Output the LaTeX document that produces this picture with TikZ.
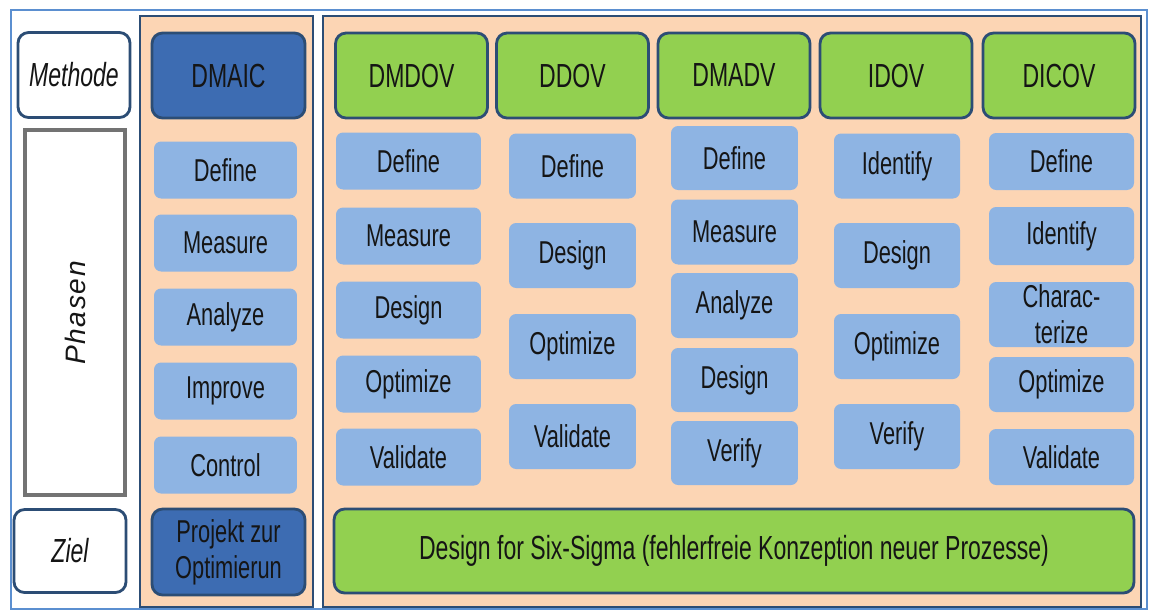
\documentclass[tikz,border=0pt]{standalone}
\usepackage{fontspec}
\setmainfont{Liberation Sans}[FakeStretch=0.69]
\newfontfamily\phasenfont{Liberation Sans}[LetterSpace=6]
\usepackage{tikz}
\usetikzlibrary{positioning}

\definecolor{peach}{HTML}{FCD5B4}
\definecolor{borderblue}{HTML}{2C4D75}
\definecolor{darkblue}{HTML}{3D6CB2}
\definecolor{lightblue}{HTML}{8EB4E3}
\definecolor{dfssgreen}{HTML}{92D050}
\definecolor{framecol}{HTML}{5B8FD0}
\definecolor{textcol}{HTML}{151515}

\newcommand{\phasefont}{\fontsize{18}{20.5}\selectfont}
\newcommand{\headfont}{\fontsize{19}{21}\selectfont}

\tikzset{
    sidelabel/.style={draw=borderblue,line width=1.6pt,fill=white,rounded corners=6pt,
        minimum width=2.24cm,minimum height=1.7cm,font=\headfont\itshape,text=textcol},
    head/.style={draw=borderblue,line width=1.6pt,rounded corners=6pt,
        minimum width=3.04cm,minimum height=1.7cm,font=\headfont,text=textcol,align=center},
    greenhead/.style={head,fill=dfssgreen},
    bluehead/.style={head,fill=darkblue},
    phasebox/.style={fill=lightblue,rounded corners=4pt,font=\phasefont,text=textcol,
        align=center,inner sep=1pt},
    panel/.style={draw=borderblue,line width=1.5pt,fill=peach}
}

\begin{document}
\begin{tikzpicture}[x=0.02cm,y=-0.02cm]
    \useasboundingbox (0,0) rectangle (1152,610);

    % Outer frame
    \draw[framecol,line width=0.8pt] (11,10) rectangle (1147,609);

    % Left labels
    \node[sidelabel] (methode) at (74,75) {Methode};
    \draw[gray!90!black,line width=2pt] (25,130) rectangle (125,495);
    \node[rotate=90,font=\phasenfont\fontsize{16}{18}\selectfont\itshape,text=textcol] (phasen) at (75,313) {Phasen};
    \node[sidelabel,minimum height=1.66cm] (ziel) at (70,551) {Ziel};

    % DMAIC panel
    \draw[panel] (140,16) rectangle (313,607);
    \node[bluehead,minimum width=3.06cm] (dmaic) at (228.5,75.5) {DMAIC};
    \node[phasebox,minimum width=2.86cm,minimum height=1.14cm] (dmaic-d) at (225.5,170) {Define};
    \node[phasebox,minimum width=2.86cm,minimum height=1.14cm] (dmaic-m) at (225.5,243) {Measure};
    \node[phasebox,minimum width=2.86cm,minimum height=1.14cm] (dmaic-a) at (225.5,317) {Analyze};
    \node[phasebox,minimum width=2.86cm,minimum height=1.14cm] (dmaic-i) at (225.5,391) {Improve};
    \node[phasebox,minimum width=2.86cm,minimum height=1.14cm] (dmaic-c) at (225.5,465) {Control};
    \node[bluehead,minimum width=3.06cm,font=\phasefont,minimum height=1.72cm] (projekt) at (228.5,552)
        {Projekt zur\\Optimierun};

    % DFSS panel
    \draw[panel] (323,16) rectangle (1141,607);
    \node[greenhead] (dmdov) at (411.5,75.5) {DMDOV};
    \node[greenhead] (ddov) at (572.5,75.5) {DDOV};
    \node[greenhead] (dmadv) at (734,75.5) {DMADV};
    \node[greenhead] (idov) at (896,75.5) {IDOV};
    \node[greenhead] (dicov) at (1059,75.5) {DICOV};

    % DMDOV phases
    \node[phasebox,minimum width=2.9cm,minimum height=1.14cm] (dmdov-1) at (408.5,161) {Define};
    \node[phasebox,minimum width=2.9cm,minimum height=1.14cm] (dmdov-2) at (408.5,236) {Measure};
    \node[phasebox,minimum width=2.9cm,minimum height=1.14cm] (dmdov-3) at (408.5,310) {Design};
    \node[phasebox,minimum width=2.9cm,minimum height=1.14cm] (dmdov-4) at (408.5,384) {Optimize};
    \node[phasebox,minimum width=2.9cm,minimum height=1.14cm] (dmdov-5) at (408.5,457) {Validate};

    % DDOV phases
    \node[phasebox,minimum width=2.54cm,minimum height=1.3cm] (ddov-1) at (572.5,166) {Define};
    \node[phasebox,minimum width=2.54cm,minimum height=1.3cm] (ddov-2) at (572.5,255.5) {Design};
    \node[phasebox,minimum width=2.54cm,minimum height=1.3cm] (ddov-3) at (572.5,346.5) {Optimize};
    \node[phasebox,minimum width=2.54cm,minimum height=1.3cm] (ddov-4) at (572.5,436.5) {Validate};

    % DMADV phases
    \node[phasebox,minimum width=2.54cm,minimum height=1.28cm] (dmadv-1) at (734.5,158) {Define};
    \node[phasebox,minimum width=2.54cm,minimum height=1.3cm] (dmadv-2) at (734.5,232) {Measure};
    \node[phasebox,minimum width=2.54cm,minimum height=1.3cm] (dmadv-3) at (734.5,305.5) {Analyze};
    \node[phasebox,minimum width=2.54cm,minimum height=1.28cm] (dmadv-4) at (734.5,380) {Design};
    \node[phasebox,minimum width=2.54cm,minimum height=1.28cm] (dmadv-5) at (734.5,453) {Verify};

    % IDOV phases
    \node[phasebox,minimum width=2.52cm,minimum height=1.3cm] (idov-1) at (897,166) {Identify};
    \node[phasebox,minimum width=2.52cm,minimum height=1.3cm] (idov-2) at (897,255.5) {Design};
    \node[phasebox,minimum width=2.52cm,minimum height=1.3cm] (idov-3) at (897,346.5) {Optimize};
    \node[phasebox,minimum width=2.52cm,minimum height=1.3cm] (idov-4) at (897,436.5) {Verify};

    % DICOV phases
    \node[phasebox,minimum width=2.9cm,minimum height=1.14cm] (dicov-1) at (1061.5,161.5) {Define};
    \node[phasebox,minimum width=2.9cm,minimum height=1.16cm] (dicov-2) at (1061.5,236) {Identify};
    \node[phasebox,minimum width=2.9cm,minimum height=1.3cm] (dicov-3) at (1061.5,314.5) {Charac-\\terize};
    \node[phasebox,minimum width=2.9cm,minimum height=1.1cm] (dicov-4) at (1061.5,384.5) {Optimize};
    \node[phasebox,minimum width=2.9cm,minimum height=1.12cm] (dicov-5) at (1061.5,457) {Validate};

    % Goal bar
    \node[greenhead,minimum width=16cm,minimum height=1.68cm] (dfss) at (734,551)
        {Design for Six-Sigma (fehlerfreie Konzeption neuer Prozesse)};
\end{tikzpicture}
\end{document}
